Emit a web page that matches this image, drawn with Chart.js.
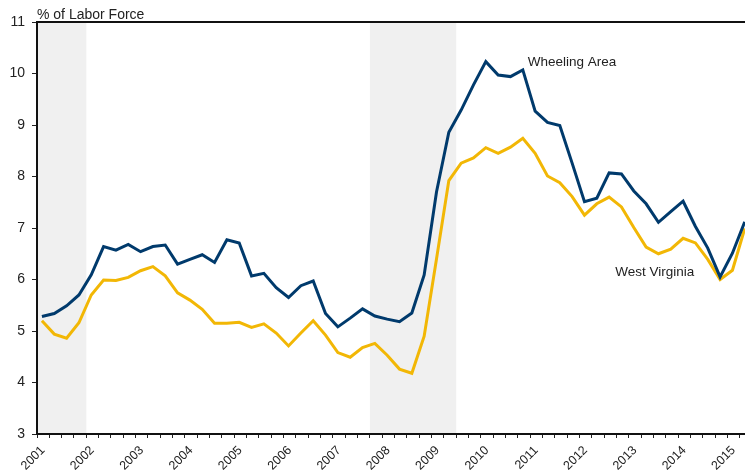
<!DOCTYPE html>
<html>
<head>
<meta charset="utf-8">
<script src="https://cdn.jsdelivr.net/npm/chart.js@4/dist/chart.umd.min.js"></script>
<style>
  html, body { margin: 0; padding: 0; background: #fff; }
  #wrap { width: 745px; height: 474px; position: relative; }
</style>
</head>
<body>
<div id="wrap"><canvas id="unempChart"></canvas></div>
<script>
'use strict';

// quarterly, 2001 Q1 .. 2015 Q2
const years = ['2001', '2002', '2003', '2004', '2005', '2006', '2007', '2008',
    '2009', '2010', '2011', '2012', '2013', '2014', '2015'];

const wheelingArea = [
    5.28, 5.34, 5.49, 5.70, 6.09, 6.64, 6.57, 6.68,
    6.54, 6.64, 6.67, 6.30, 6.39, 6.48, 6.33, 6.77,
    6.71, 6.07, 6.12, 5.84, 5.65, 5.88, 5.97, 5.34,
    5.08, 5.25, 5.43, 5.29, 5.23, 5.18, 5.35, 6.09,
    7.70, 8.86, 9.29, 9.78, 10.23, 9.97, 9.94, 10.07,
    9.27, 9.05, 8.99, 8.26, 7.51, 7.58, 8.07, 8.05,
    7.72, 7.47, 7.11, 7.32, 7.52, 7.03, 6.61, 6.05,
    6.51, 7.12
];

const westVirginia = [
    5.20, 4.94, 4.86, 5.16, 5.70, 5.99, 5.98, 6.04,
    6.17, 6.25, 6.07, 5.74, 5.60, 5.42, 5.15, 5.15,
    5.17, 5.07, 5.14, 4.96, 4.71, 4.96, 5.20, 4.92,
    4.58, 4.49, 4.68, 4.76, 4.53, 4.26, 4.18, 4.90,
    6.40, 7.92, 8.26, 8.36, 8.56, 8.45, 8.57, 8.74,
    8.45, 8.01, 7.88, 7.61, 7.25, 7.47, 7.60, 7.41,
    7.01, 6.63, 6.50, 6.59, 6.80, 6.71, 6.39, 6.00,
    6.18, 6.99
];

// recessions, in quarters from 2001 Q1
const recessions = [[0, 4], [27, 34]];

const yTicks = [3, 4, 5, 6, 7, 8, 9, 10, 11];

const BLUE = '#003a6c';
const GOLD = '#f2b705';
const TEXT = '#222222';
const FONT = "'Liberation Sans', Arial, Helvetica, sans-serif";

function toPoints(values) {
    return values.map(function (v, i) {
        return { x: i + 0.4, y: v };
    });
}

const frame = {
    id: 'frame',
    beforeDraw: function (chart) {
        const ctx = chart.ctx;
        const area = chart.chartArea;
        const xs = chart.scales.x;
        ctx.save();
        ctx.fillStyle = '#f0f0f0';
        recessions.forEach(function (r) {
            const x0 = xs.getPixelForValue(r[0]);
            const x1 = xs.getPixelForValue(r[1]);
            ctx.fillRect(x0, area.top, x1 - x0, area.bottom - area.top);
        });
        ctx.strokeStyle = '#111';
        ctx.lineWidth = 2;
        ctx.beginPath();
        ctx.moveTo(area.left, area.top);
        ctx.lineTo(area.right, area.top);
        ctx.stroke();
        ctx.restore();
    },
    afterDraw: function (chart) {
        const ctx = chart.ctx;
        const xs = chart.scales.x;
        const ys = chart.scales.y;
        ctx.save();
        ctx.fillStyle = TEXT;
        ctx.textBaseline = 'alphabetic';
        ctx.textAlign = 'left';
        ctx.font = '14px ' + FONT;
        ctx.fillText('% of Labor Force', chart.chartArea.left, 19);
        ctx.font = '13.5px ' + FONT;
        ctx.fillText('Wheeling Area', xs.getPixelForValue(39.8), ys.getPixelForValue(10.15));
        ctx.fillText('West Virginia', xs.getPixelForValue(46.9), ys.getPixelForValue(6.07));
        ctx.restore();
    }
};

const ctx = document.getElementById('unempChart').getContext('2d');
const chart = new Chart(ctx, {
    type: 'line',
    data: {
        datasets: [{
            label: 'Wheeling Area',
            data: toPoints(wheelingArea),
            borderColor: BLUE,
            borderWidth: 3,
            pointRadius: 0,
            tension: 0
        }, {
            label: 'West Virginia',
            data: toPoints(westVirginia),
            borderColor: GOLD,
            borderWidth: 3,
            pointRadius: 0,
            tension: 0
        }]
    },
    options: {
        responsive: true,
        maintainAspectRatio: false,
        animation: false,
        layout: {
            padding: { top: 22, left: 0, right: 0, bottom: 0 }
        },
        plugins: {
            legend: { display: false },
            tooltip: { enabled: false }
        },
        scales: {
            x: {
                type: 'linear',
                min: 0,
                max: 57.42,
                afterBuildTicks: function (scale) {
                    scale.ticks = wheelingArea.map(function (v, i) {
                        return { value: i };
                    });
                },
                afterFit: function (scale) {
                    scale.height = 40;
                    scale.paddingLeft = 0;
                    scale.paddingRight = 0;
                },
                grid: {
                    drawOnChartArea: false,
                    drawTicks: true,
                    tickLength: 4,
                    tickWidth: 1,
                    tickColor: '#222'
                },
                border: { color: '#111', width: 2 },
                ticks: {
                    autoSkip: false,
                    minRotation: 45,
                    maxRotation: 45,
                    padding: 5,
                    labelOffset: 6,
                    color: TEXT,
                    font: { family: FONT, size: 12.5 },
                    callback: function (value) {
                        return value % 4 === 0 ? years[value / 4] : '';
                    }
                }
            },
            y: {
                min: 3,
                max: 11,
                afterBuildTicks: function (scale) {
                    scale.ticks = yTicks.map(function (v) {
                        return { value: v };
                    });
                },
                afterFit: function (scale) {
                    scale.width = 37;
                },
                grid: {
                    drawOnChartArea: false,
                    drawTicks: true,
                    tickLength: 5,
                    tickWidth: 1,
                    tickColor: '#222'
                },
                border: { color: '#111', width: 2 },
                ticks: {
                    padding: 7,
                    color: TEXT,
                    font: { family: FONT, size: 14 }
                }
            }
        }
    },
    plugins: [frame]
});
</script>
</body>
</html>
